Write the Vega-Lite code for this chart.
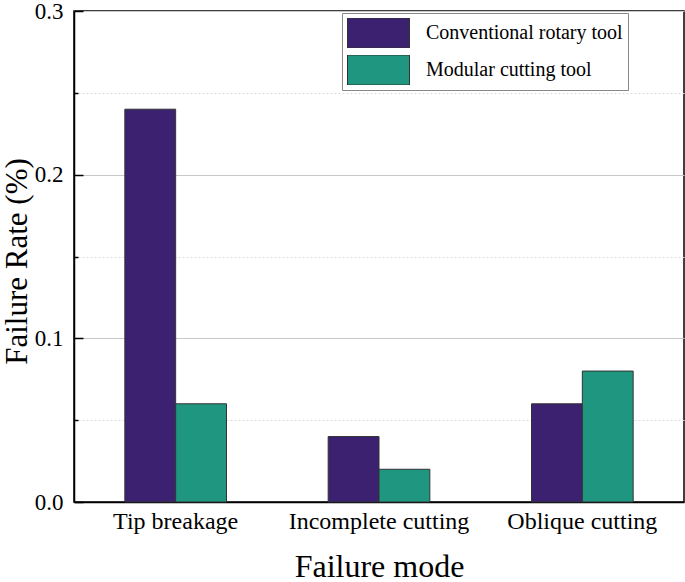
{
  "$schema": "https://vega.github.io/schema/vega-lite/v6.json",
  "autosize": "none",
  "padding": {"left": 74, "top": 11, "right": 1, "bottom": 80},
  "width": 610,
  "height": 491,
  "background": "white",
  "config": {
    "font": "Liberation Serif",
    "view": {"stroke": "#000000", "strokeWidth": 1.5},
    "axis": {"labelFont": "Liberation Serif", "titleFont": "Liberation Serif", "labelColor": "#000", "titleColor": "#000", "titleFontWeight": "normal"},
    "legend": {"labelFont": "Liberation Serif"}
  },
  "data": {
    "values": [
      {"mode": "Tip breakage", "tool": "Conventional rotary tool", "rate": 0.24},
      {"mode": "Tip breakage", "tool": "Modular cutting tool", "rate": 0.06},
      {"mode": "Incomplete cutting", "tool": "Conventional rotary tool", "rate": 0.04},
      {"mode": "Incomplete cutting", "tool": "Modular cutting tool", "rate": 0.02},
      {"mode": "Oblique cutting", "tool": "Conventional rotary tool", "rate": 0.06},
      {"mode": "Oblique cutting", "tool": "Modular cutting tool", "rate": 0.08}
    ]
  },
  "mark": {"type": "bar", "stroke": "#333333", "strokeWidth": 1},
  "encoding": {
    "x": {
      "field": "mode",
      "type": "nominal",
      "sort": ["Tip breakage", "Incomplete cutting", "Oblique cutting"],
      "scale": {"paddingInner": 0.5, "paddingOuter": 0.25},
      "axis": {
        "title": "Failure mode",
        "labelAngle": 0,
        "labelFontSize": 24,
        "labelPadding": 7,
        "labelLimit": 400,
        "ticks": false,
        "domainColor": "#000",
        "domainWidth": 1.5,
        "titleFontSize": 32,
        "titlePadding": 18
      }
    },
    "xOffset": {
      "field": "tool",
      "type": "nominal",
      "sort": ["Conventional rotary tool", "Modular cutting tool"],
      "scale": {"paddingInner": 0, "paddingOuter": 0}
    },
    "y": {
      "field": "rate",
      "type": "quantitative",
      "scale": {"domain": [0, 0.3], "nice": false, "zero": true},
      "axis": {
        "title": "Failure Rate (%)",
        "values": [0, 0.05, 0.1, 0.15, 0.2, 0.25, 0.3],
        "labelExpr": "round(datum.value*100)%10==0 ? format(datum.value,'.1f') : ''",
        "labelFontSize": 23,
        "labelPadding": 20,
        "tickSize": {"condition": {"test": "round(datum.value*100)%10==0", "value": -9}, "value": -4},
        "tickColor": "#000",
        "tickWidth": 1.5,
        "domainColor": "#000",
        "domainWidth": 1.5,
        "grid": true,
        "gridColor": {"condition": {"test": "round(datum.value*100)%10==0", "value": "#c8c8c8"}, "value": "#dcdcdc"},
        "gridDash": {"condition": {"test": "round(datum.value*100)%10==0", "value": []}, "value": [2, 2]},
        "gridWidth": 1,
        "titleFontSize": 31,
        "titlePadding": 1,
        "titleY": 250
      }
    },
    "color": {
      "field": "tool",
      "type": "nominal",
      "sort": ["Conventional rotary tool", "Modular cutting tool"],
      "scale": {"range": ["#3b2170", "#1f9780"]},
      "legend": {
        "title": null,
        "orient": "none",
        "legendX": 268,
        "legendY": 2,
        "padding": 5,
        "strokeColor": "#888888",
        "fillColor": "white",
        "symbolType": "M-1,-0.484L1,-0.484L1,0.484L-1,0.484Z",
        "symbolSize": 3844,
        "symbolStrokeColor": "#333333",
        "symbolStrokeWidth": 1,
        "symbolOpacity": 1,
        "clipHeight": 30,
        "rowPadding": 7,
        "labelFontSize": 20,
        "labelOffset": 16,
        "labelColor": "#000",
        "labelLimit": 400
      }
    }
  }
}
